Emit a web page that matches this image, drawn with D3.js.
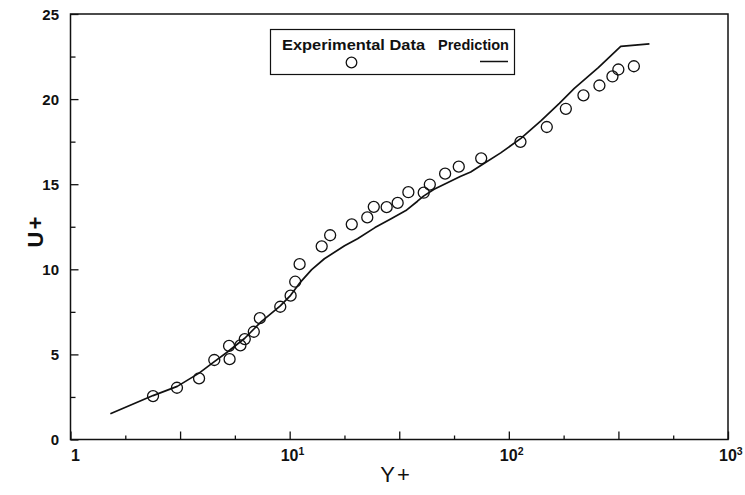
<!DOCTYPE html>
<html>
<head>
<meta charset="utf-8">
<script src="https://cdn.jsdelivr.net/npm/d3@7"></script>
<style>
  html, body { margin: 0; padding: 0; background: #fff; }
  svg { display: block; }
  .tick-label { font-family: "Liberation Sans", Arial, sans-serif; font-weight: bold; fill: #111; }
  .axis-title { font-family: "Liberation Sans", Arial, sans-serif; fill: #111; }
  .legend-text { font-family: "Liberation Sans", Arial, sans-serif; font-weight: bold; fill: #111; }
</style>
</head>
<body>
<script>
// Experimental velocity profile (wall units)
const expYPlus = [2.38, 3.06, 3.86, 4.53, 5.32, 5.29, 5.96, 6.24, 6.86, 7.31,
                  9.06, 10.1, 10.6, 11.1, 14.0, 15.3, 19.2, 22.6, 24.2, 27.7,
                  31.1, 34.8, 40.9, 43.6, 51.2, 59.1, 74.8, 113, 149, 182,
                  219, 259, 297, 316, 372];
const expUPlus = [2.55, 3.04, 3.59, 4.67, 4.72, 5.5, 5.53, 5.9, 6.33, 7.13,
                  7.8, 8.45, 9.27, 10.3, 11.35, 12.0, 12.64, 13.05, 13.67, 13.65,
                  13.9, 14.53, 14.5, 14.98, 15.62, 16.03, 16.52, 17.49, 18.36, 19.43,
                  20.22, 20.8, 21.33, 21.74, 21.93];

// Predicted profile
const predYPlus = [1.52, 2.38, 3.07, 3.86, 4.5, 5.2, 6.24, 7.38, 9.06, 10.1,
                   11.2, 12.6, 14.4, 17.8, 20.4, 24.5, 28.9, 33.9, 38.3, 40.8,
                   45.6, 51.9, 60, 67, 74.5, 91.8, 113.5, 140, 170, 199,
                   256, 324, 438];
const predUPlus = [1.51, 2.58, 3.12, 3.9, 4.55, 5.14, 5.95, 6.9, 7.85, 8.47,
                   9.25, 9.98, 10.62, 11.38, 11.8, 12.45, 12.95, 13.45, 14.0, 14.3,
                   14.7, 15.05, 15.45, 15.72, 16.1, 16.84, 17.69, 18.72, 19.75, 20.63,
                   21.85, 23.1, 23.24];

// Axis ticks
const xMajorTicks = [1, 3.1623, 10, 31.623, 100, 316.23, 1000];
const xMinorTicks = [1.7783, 5.6234, 17.783, 56.234, 177.83, 562.34];
const xLabelExps = [0, 1, 2, 3];
const yMajorTicks = [0, 5, 10, 15, 20, 25];
const yMinorTicks = [2.5, 7.5, 12.5, 17.5, 22.5];

const W = 745, H = 495;
const L = 70.5, R = 728, T = 14, B = 439.5;

const svg = d3.select("body").append("svg")
  .attr("width", W).attr("height", H);

const x = d3.scaleLog().domain([1, 1000]).range([L, R]);
const y = d3.scaleLinear().domain([0, 25]).range([B, T]);

const ink = "#111";

// Frame
svg.append("rect")
  .attr("x", L).attr("y", T)
  .attr("width", R - L).attr("height", B - T)
  .attr("fill", "none").attr("stroke", ink).attr("stroke-width", 1.5);

// Inward ticks on the bottom axis
function styleAxis(g) {
  g.select(".domain").remove();
  g.selectAll(".tick line").attr("stroke", ink).attr("stroke-width", 1.3);
  g.selectAll(".tick text").remove();
}
svg.append("g").attr("transform", `translate(0,${B})`)
  .call(d3.axisBottom(x).tickValues(xMajorTicks).tickSizeInner(-8).tickSizeOuter(0).tickFormat(""))
  .call(styleAxis);
svg.append("g").attr("transform", `translate(0,${B})`)
  .call(d3.axisBottom(x).tickValues(xMinorTicks).tickSizeInner(-4).tickSizeOuter(0).tickFormat(""))
  .call(styleAxis);

// Inward ticks on the left axis
svg.append("g").attr("transform", `translate(${L},0)`)
  .call(d3.axisLeft(y).tickValues(yMajorTicks).tickSizeInner(-8).tickSizeOuter(0).tickFormat(""))
  .call(styleAxis);
svg.append("g").attr("transform", `translate(${L},0)`)
  .call(d3.axisLeft(y).tickValues(yMinorTicks).tickSizeInner(-5).tickSizeOuter(0).tickFormat(""))
  .call(styleAxis);

// Y tick labels
svg.append("g").selectAll("text").data(yMajorTicks).join("text")
  .attr("class", "tick-label")
  .attr("x", 59).attr("y", d => y(d) + 5.5)
  .attr("text-anchor", "end")
  .attr("font-size", 15)
  .text(d => d);

// X tick labels (powers of ten)
const xl = svg.append("g").selectAll("text").data(xLabelExps).join("text")
  .attr("class", "tick-label")
  .attr("font-size", 16)
  .attr("y", 461);
xl.each(function(e) {
  const t = d3.select(this);
  const px = x(Math.pow(10, e));
  if (e === 0) {
    t.attr("x", px + 5).attr("text-anchor", "middle").text("1");
  } else {
    t.attr("x", px - 9).attr("text-anchor", "start");
    t.append("tspan").text("10");
    t.append("tspan").attr("font-size", 10.5).attr("dy", -6).text(e);
  }
});

// Axis titles
svg.append("text").attr("class", "axis-title")
  .attr("x", 396).attr("y", 482)
  .attr("text-anchor", "middle")
  .attr("font-size", 22)
  .attr("letter-spacing", 2)
  .text("Y+");
svg.append("text").attr("class", "axis-title")
  .attr("transform", "translate(43,231) rotate(-90)")
  .attr("text-anchor", "middle")
  .attr("font-size", 22)
  .attr("font-weight", "bold")
  .attr("letter-spacing", 2)
  .text("U+");

// Prediction line
const pred = predYPlus.map((v, i) => [v, predUPlus[i]]);
svg.append("path")
  .datum(pred)
  .attr("fill", "none")
  .attr("stroke", ink)
  .attr("stroke-width", 1.7)
  .attr("stroke-linejoin", "round")
  .attr("d", d3.line().x(d => x(d[0])).y(d => y(d[1])));

// Experimental data
const exp = expYPlus.map((v, i) => [v, expUPlus[i]]);
svg.append("g").selectAll("circle").data(exp).join("circle")
  .attr("cx", d => x(d[0])).attr("cy", d => y(d[1]))
  .attr("r", 5.5)
  .attr("fill", "none")
  .attr("stroke", ink)
  .attr("stroke-width", 1.3);

// Legend
const lg = svg.append("g");
lg.append("rect")
  .attr("x", 270.5).attr("y", 29.5).attr("width", 244).attr("height", 45)
  .attr("fill", "#fff").attr("stroke", ink).attr("stroke-width", 1.2);
lg.append("text").attr("class", "legend-text")
  .attr("x", 282).attr("y", 50).attr("font-size", 15)
  .attr("textLength", 143).attr("lengthAdjust", "spacingAndGlyphs")
  .text("Experimental Data");
lg.append("text").attr("class", "legend-text")
  .attr("x", 438).attr("y", 50).attr("font-size", 15)
  .attr("textLength", 71).attr("lengthAdjust", "spacingAndGlyphs")
  .text("Prediction");
lg.append("circle")
  .attr("cx", 351.5).attr("cy", 62.5).attr("r", 5.3)
  .attr("fill", "none").attr("stroke", ink).attr("stroke-width", 1.3);
lg.append("line")
  .attr("x1", 480).attr("x2", 508).attr("y1", 61.5).attr("y2", 61.5)
  .attr("stroke", ink).attr("stroke-width", 1.5);
</script>
</body>
</html>
